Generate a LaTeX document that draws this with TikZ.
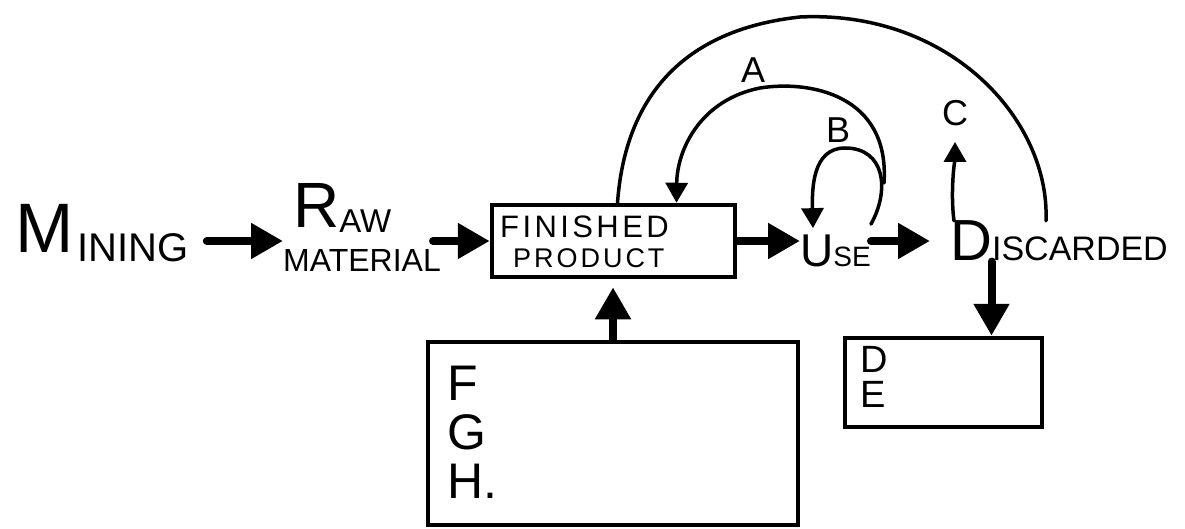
\documentclass[tikz,border=0pt]{standalone}
\usepackage{fontspec}
\setmainfont{Liberation Sans}
\newfontfamily\spaced{Liberation Sans}[LetterSpace=11]
\usetikzlibrary{arrows.meta}
\begin{document}
\begin{tikzpicture}[x=1pt,y=-1pt,
  lab/.style={inner sep=0pt, anchor=base west},
  bigarrow/.style={line width=8pt, -{Triangle[width=34pt,length=32pt]}},
  thinarrow/.style={line width=3.5pt, -{Triangle[width=22pt,length=20pt]}},
  thinline/.style={line width=3.5pt},
  boxst/.style={draw, line width=4.5pt, inner sep=0pt},
  line cap=round]
\useasboundingbox (0,0) rectangle (1185,529);

% text nodes
\node[lab] (mining) at (15,253) {\fontsize{70}{70}\selectfont M\hspace{4pt}\raisebox{-9pt}{\fontsize{40}{40}\selectfont INING}};
\node[lab] (raw) at (293,228) {\fontsize{64}{64}\selectfont R\raisebox{-5pt}{\fontsize{33}{33}\selectfont AW}};
\node[lab] (material) at (283,272) {\fontsize{32}{32}\selectfont MATERIAL};
\node[boxst, minimum width=243pt, minimum height=72pt] (fp) at (613.5,241) {};
\node[lab] (fin) at (500,238) {\fontsize{31}{31}\spaced FINISHED};
\node[lab] (prod) at (513,267) {\fontsize{27}{27}\spaced PRODUCT};
\node[lab] (use) at (800,266) {\fontsize{46}{46}\selectfont U\fontsize{28}{28}\selectfont SE};
\node[lab] (disc) at (950,261) {\fontsize{58}{58}\selectfont D\fontsize{34}{34}\selectfont ISCARDED};
\node (la) at (753,70) {\fontsize{36}{36}\selectfont A};
\node (lb) at (838,130) {\fontsize{36}{36}\selectfont B};
\node[inner sep=0pt] (lc) at (955,113) {\fontsize{36}{36}\selectfont C};

% boxes below
\node[boxst, minimum width=370pt, minimum height=183pt] (fgh) at (613,433.5) {};
\node[lab] (lf) at (447,400) {\fontsize{50}{50}\selectfont F};
\node[lab] (lg) at (447,449) {\fontsize{50}{50}\selectfont G};
\node[lab] (lh) at (447,498) {\fontsize{50}{50}\selectfont H.};
\node[boxst, minimum width=197pt, minimum height=89pt] (debox) at (943.5,382.5) {};
\node[lab] (ld) at (860,372) {\fontsize{38}{38}\selectfont D};
\node[lab] (le) at (860,407) {\fontsize{38}{38}\selectfont E};

% main flow arrows
\draw[bigarrow, shorten <=18pt] (mining.east |- fp.east) -- (material.west |- fp.east);
\draw[bigarrow, shorten <=-8pt] (material.east |- fp.east) -- (fp.west);
\draw[bigarrow] (fp.east) -- (fp.east -| use.west);
\draw[bigarrow, shorten >=20pt] (use.east |- fp.east) -- (disc.west |- fp.east);
\draw[bigarrow, shorten >=8pt] (fgh.north) -- (fgh.north |- fp.south);
\coordinate (dtop) at ([xshift=48pt]debox.north);
\draw[bigarrow] (dtop |- disc.south) -- (dtop);

% curved connectors
\coordinate (bigstart) at ([xshift=4pt]fp.north);
\coordinate (bigend) at ([xshift=-13pt]disc.north);
\draw[thinline] (bigstart) .. controls (625,100) and (680,30) .. (800,17)
  .. controls (950,10) and (1050,120) .. (bigend);

\coordinate (astart) at (884,183);
\coordinate (aend) at ([xshift=63pt]fp.north);
\draw[thinarrow] (astart) .. controls (890,95) and (810,80) .. (760,88)
  .. controls (700,100) and (677,150) .. (aend);

\coordinate (bstart) at ([yshift=10pt]use.north east);
\coordinate (bend) at ([xshift=13pt,yshift=6pt]use.north west);
\draw[thinarrow] (bstart) .. controls (890,190) and (885,148) .. (845,148)
  .. controls (812,148) and (812,190) .. (bend);

\draw[thinarrow, shorten >=16pt] ([xshift=4pt]disc.north west) .. controls +(-4,-30) and +(0,30) .. (lc.south);
\end{tikzpicture}
\end{document}
